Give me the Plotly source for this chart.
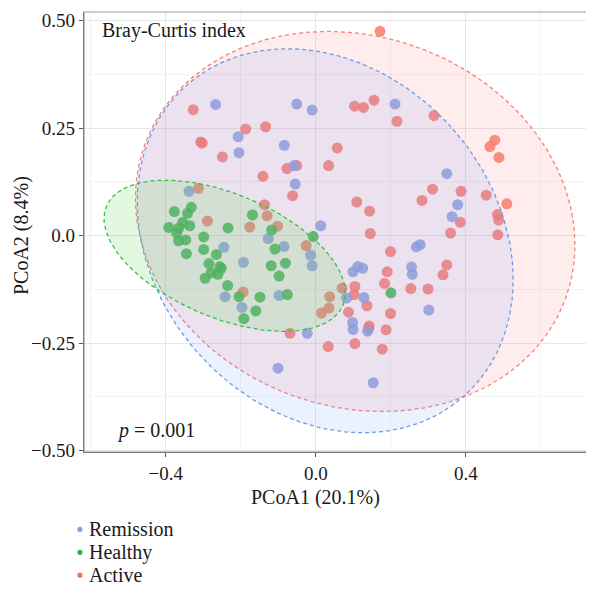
import numpy as np
import plotly.graph_objects as go

# ---------------- data ----------------
remission_x = [-0.267, -0.207, -0.205, -0.338, -0.051, -0.010, 0.211, -0.084, -0.058, -0.055,
               0.013, -0.127, -0.085, -0.014, -0.010, -0.245, -0.193, -0.242, -0.197, -0.098,
               -0.023, -0.101, 0.082, 0.128, 0.099, 0.112, 0.125, 0.098, 0.099, 0.138,
               0.153, 0.255, 0.257, 0.301, 0.268, 0.278, 0.349, 0.378, 0.363]
remission_y = [0.305, 0.230, 0.193, 0.103, 0.306, 0.292, 0.306, 0.210, 0.163, 0.120,
               0.023, -0.007, -0.025, -0.045, -0.070, -0.027, -0.062, -0.142, -0.167, -0.139,
               -0.227, -0.308, -0.145, -0.144, -0.084, -0.072, -0.076, -0.202, -0.218, -0.222,
               -0.342, -0.073, -0.090, -0.173, -0.026, -0.021, 0.144, 0.072, 0.044]

healthy_x = [-0.332, -0.377, -0.342, -0.355, -0.336, -0.392, -0.365, -0.234, -0.371, -0.366,
             -0.347, -0.299, -0.169, -0.118, -0.007, -0.109, -0.081, -0.119, -0.098, -0.076,
             -0.149, -0.160, -0.299, -0.345, -0.265, -0.285, -0.256, -0.252, -0.279, -0.261,
             -0.295, -0.235, -0.205, -0.192, 0.200]
healthy_y = [0.066, 0.056, 0.052, 0.031, 0.023, 0.019, 0.018, 0.018, 0.006, -0.012,
             -0.010, -0.003, 0.048, 0.013, -0.002, -0.031, -0.064, -0.070, -0.094, -0.137,
             -0.143, -0.175, -0.032, -0.042, -0.044, -0.065, -0.072, -0.076, -0.086, -0.090,
             -0.099, -0.116, -0.142, -0.193, -0.133]

active_x = [-0.327, -0.187, -0.134, -0.307, -0.303, -0.249, -0.077, -0.051, -0.141, -0.062,
            -0.313, -0.289, -0.176, -0.137, -0.130, -0.102, -0.026, -0.194, -0.069, 0.015,
            0.035, 0.037, 0.070, 0.104, 0.102, 0.087, 0.136, 0.145, 0.109, 0.143,
            0.199, 0.190, 0.183, 0.199, 0.187, 0.142, 0.141, 0.104, 0.033, 0.177,
            0.253, 0.299, 0.349, 0.339, 0.359, 0.485, 0.484, 0.487, 0.385, 0.454,
            0.509, 0.387, 0.283, 0.311, 0.488, 0.477, 0.464, 0.315, 0.216, 0.155,
            0.103, 0.127, 0.057, 0.034, 0.171]
active_y = [0.293, 0.248, 0.253, 0.218, 0.215, 0.183, 0.156, 0.163, 0.138, 0.093,
            0.110, 0.034, 0.020, 0.072, 0.046, 0.022, -0.023, -0.131, -0.227, -0.180,
            -0.168, -0.142, -0.122, -0.118, -0.137, -0.178, -0.163, 0.005, 0.078, 0.057,
            -0.037, -0.084, -0.111, -0.181, -0.219, -0.210, -0.215, -0.251, -0.258, -0.264,
            -0.123, -0.124, -0.068, -0.091, 0.006, 0.002, 0.049, 0.036, 0.031, 0.094,
            0.074, 0.103, 0.082, 0.108, 0.182, 0.222, 0.207, 0.279, 0.266, 0.315,
            0.301, 0.298, 0.204, 0.163, 0.475]

# confidence ellipses: centre and covariance (var x, var y, cov xy)
ell_groups = ["Active", "Remission", "Healthy"]
ell_cx = [0.1049, 0.0249, -0.2430]
ell_cy = [0.0330, -0.0119, -0.0468]
ell_vx = [0.3431, 0.2510, 0.1034]
ell_vy = [0.1952, 0.1992, 0.0309]
ell_cxy = [-0.0319, -0.0449, -0.0278]

x_tickvals = [-0.4, 0.0, 0.4]
x_ticktext = ["\u22120.4", "0.0", "0.4"]
y_tickvals = [0.5, 0.25, 0.0, -0.25, -0.5]
y_ticktext = ["0.50", "0.25", "0.0", "\u22120.25", "\u22120.50"]

legend_labels = ["Remission", "Healthy", "Active"]

# ---------------- styling ----------------
pt_color = {"Remission": "#82A3E8", "Healthy": "#2FB84A", "Active": "#F97A6A"}
legend_dot = {"Remission": "#7FA8DE", "Healthy": "#27B844", "Active": "#F47A4A"}
line_color = {"Remission": "#6F9BE6", "Healthy": "#33C23F", "Active": "#F5837A"}
fill_color = {"Remission": "rgba(110,145,255,0.13)", "Healthy": "rgba(90,215,70,0.17)",
              "Active": "rgba(252,125,125,0.14)"}
FONT = "Liberation Serif"

fig = go.Figure()

pts = {"Active": (active_x, active_y), "Remission": (remission_x, remission_y),
       "Healthy": (healthy_x, healthy_y)}
for g in ["Active", "Remission", "Healthy"]:
    xs, ys = pts[g]
    fig.add_trace(go.Scatter(x=xs, y=ys, mode="markers", showlegend=False, name=g,
                             marker=dict(size=11, color=pt_color[g], opacity=0.85,
                                         line=dict(width=0)),
                             hoverinfo="skip"))

t = np.linspace(0, 2 * np.pi, 241)
for i, g in enumerate(ell_groups):
    sx = np.sqrt(ell_vx[i])
    b = ell_cxy[i] / sx
    c = np.sqrt(ell_vy[i] - b * b)
    ex = ell_cx[i] + sx * np.cos(t)
    ey = ell_cy[i] + b * np.cos(t) + c * np.sin(t)
    fig.add_trace(go.Scatter(x=ex, y=ey, mode="lines", fill="toself",
                             fillcolor=fill_color[g], showlegend=False,
                             line=dict(color=line_color[g], width=1.3, dash="4px,3px"),
                             hoverinfo="skip"))

# legend (drawn below the axis, left aligned)
for k, g in enumerate(legend_labels):
    yk = -0.176 - k * 0.052
    fig.add_shape(type="circle", xref="paper", yref="paper", xsizemode="pixel",
                  ysizemode="pixel", xanchor=-0.008, yanchor=yk,
                  x0=-2.6, x1=2.6, y0=-2.6, y1=2.6,
                  fillcolor=legend_dot[g], line=dict(width=0))
    fig.add_annotation(x=0.006, y=yk, xref="paper", yref="paper", text=g,
                       showarrow=False, xanchor="left", yanchor="middle",
                       font=dict(family=FONT, size=20, color="#1a1a1a"))

fig.add_annotation(x=0.031, y=0.958, xref="paper", yref="paper", text="Bray-Curtis index",
                   showarrow=False, xanchor="left", yanchor="middle",
                   font=dict(family=FONT, size=20, color="#1a1a1a"))
fig.add_annotation(x=0.062, y=0.048, xref="paper", yref="paper", text="<i>p</i> = 0.001",
                   showarrow=False, xanchor="left", yanchor="middle",
                   font=dict(family=FONT, size=20, color="#1a1a1a"))
fig.add_annotation(x=0.456, y=-0.104, xref="paper", yref="paper", text="PCoA1 (20.1%)",
                   showarrow=False, xanchor="center", yanchor="middle",
                   font=dict(family=FONT, size=20, color="#1a1a1a"))
fig.add_annotation(x=-0.123, y=0.492, xref="paper", yref="paper", text="PCoA2 (8.4%)",
                   showarrow=False, textangle=-90, xanchor="center", yanchor="middle",
                   font=dict(family=FONT, size=20, color="#1a1a1a"))

fig.add_shape(type="rect", xref="paper", yref="paper", x0=0, y0=0, x1=1, y1=1,
              line=dict(color="#9a9a9a", width=1.2), layer="above")

axis_common = dict(showline=True, linecolor="#555555", linewidth=1.3, ticks="outside",
                   ticklen=4, tickcolor="#555555", tickwidth=1, zeroline=False,
                   showgrid=True, gridcolor="#e6e6e6", gridwidth=1, automargin=False,
                   tickfont=dict(family=FONT, size=19, color="#1a1a1a"))
fig.update_xaxes(range=[-0.618, 0.736], tickvals=x_tickvals, ticktext=x_ticktext,
                 minor=dict(tickvals=[-0.6, -0.2, 0.2, 0.6], showgrid=True,
                            gridcolor="#f3f3f3", ticks=""), **axis_common)
fig.update_yaxes(range=[-0.503, 0.520], tickvals=y_tickvals, ticktext=y_ticktext,
                 minor=dict(tickvals=[-0.375, -0.125, 0.125, 0.375], showgrid=True,
                            gridcolor="#f3f3f3", ticks=""), **axis_common)

# the page puts the figure 8px from its top-left corner, so the figure is 8px smaller
fig.update_layout(width=586, height=581,
                  margin=dict(l=76, r=2, t=4, b=137, autoexpand=False),
                  plot_bgcolor="white", paper_bgcolor="white", showlegend=False)

fig.write_html("out.html")
